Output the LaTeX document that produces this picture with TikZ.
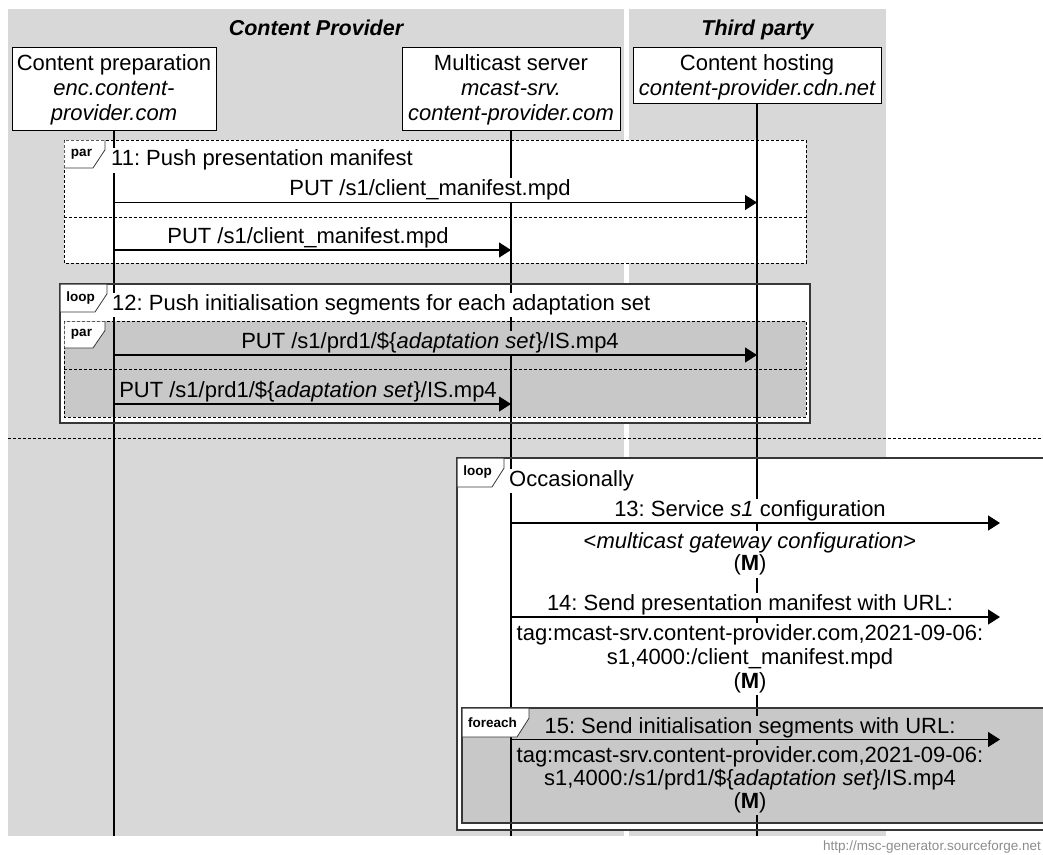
\documentclass[tikz,border=0pt]{standalone}
\usepackage{fontspec}
\setmainfont{Liberation Sans}
\usetikzlibrary{arrows.meta}
\frenchspacing

\definecolor{colbg}{RGB}{216,216,216}
\definecolor{innerbg}{RGB}{200,200,200}
\definecolor{frameline}{RGB}{55,55,55}
\definecolor{credit}{RGB}{140,140,140}

\tikzset{
  maintext/.style={font=\fontsize{22}{24}\selectfont},
  titletext/.style={font=\fontsize{21.5}{24}\selectfont\bfseries\itshape, anchor=base, inner sep=0pt},
  enttext/.style={maintext, anchor=base, inner sep=0pt},
  entbox/.style={draw=black, line width=1pt, fill=white, inner sep=0pt},
  lbl/.style={maintext, anchor=base, inner sep=1pt, text height=16.5pt, text depth=6pt, fill=white},
  lblgrey/.style={lbl, fill=innerbg},
  tagtext/.style={font=\fontsize{13.5}{15}\selectfont\bfseries, inner sep=0pt},
  tagedge/.style={line width=0.8pt, draw=frameline},
  lifeline/.style={line width=1.2pt},
  msg/.style={line width=1.3pt, -{Triangle[length=12pt,width=15pt]}},
  parframe/.style={line width=1pt, dash pattern=on 3pt off 2pt},
  loopframe/.style={line width=1.8pt, draw=frameline},
}

% corner tag of a frame: name, left, top, right, bottom, text
\newcommand{\boxtag}[6]{%
  \fill[white] ({#2+0.6},{#3+0.6}) -- (#4,{#3+0.6}) -- (#4,{#3+0.35*(#5-#3)}) -- ({#4-12},#5) -- ({#2+0.6},#5) -- cycle;
  \draw[tagedge] (#4,#3) -- (#4,{#3+0.35*(#5-#3)}) -- ({#4-12},#5) -- (#2,#5);
  \node[tagtext] (#1) at ({(#2+#4-6)/2},{(#3+#5)/2}) {#6};
}

\begin{document}
\begin{tikzpicture}[x=1pt,y=-1pt]
\useasboundingbox (0,0) rectangle (1043,854);

% organisation columns
\fill[colbg] (8,9) rectangle (624,835.5);
\fill[colbg] (629,9) rectangle (886,835.5);
\node[titletext] (cptitle) at (316,35) {Content Provider};
\node[titletext] (tptitle) at (757.5,35) {Third party};

% frame backgrounds
\fill[white] (64,140) rectangle (806,263);
\fill[white] (60,284) rectangle (810,423);
\fill[innerbg] (64,321) rectangle (806,417);
\fill[white] (457,458) rectangle (1050,830);
\fill[innerbg] (462,708) rectangle (1050,823);

% entities
\node[entbox, minimum width=204pt, minimum height=83pt] (cp) at (114,88.5) {};
\node[enttext] (cpa) at (114,70.5) {Content preparation};
\node[enttext] (cpb) at (114,95.5) {\itshape enc.content-};
\node[enttext] (cpc) at (114,120.5) {\itshape provider.com};

\node[entbox, minimum width=218pt, minimum height=83pt] (ms) at (511,88.5) {};
\node[enttext] (msa) at (511,70.5) {Multicast server};
\node[enttext] (msb) at (511,95.5) {\itshape mcast-srv.};
\node[enttext] (msc) at (511,120.5) {\itshape content-provider.com};

\node[entbox, minimum width=248pt, minimum height=56pt] (ch) at (757,75) {};
\node[enttext] (cha) at (757,70.5) {Content hosting};
\node[enttext] (chb) at (757,95.5) {\itshape content-provider.cdn.net};

% lifelines
\coordinate (cpend) at (114,836);
\coordinate (msend) at (511,836);
\coordinate (chend) at (757,836);
\draw[lifeline] (cp.south) -- (cpend);
\draw[lifeline] (ms.south) -- (msend);
\draw[lifeline] (ch.south) -- (chend);

% frames and separators
\draw[parframe] (64,140) rectangle (806,263);
\draw[parframe] (64,217) -- (806,217);
\draw[loopframe] (60,284) rectangle (810,423);
\draw[parframe] (64,321) rectangle (806,417);
\draw[parframe] (64,369) -- (806,369);
\coordinate (sepl) at (8,438);
\coordinate (sepr) at (1050,438);
\draw[parframe] (sepl) -- (sepr);
\draw[loopframe] (457,458) rectangle (1050,830);
\draw[loopframe] (462,708) rectangle (1050,823);

\boxtag{tagpar1}{64}{140}{105}{168}{par}
\boxtag{tagloop1}{60}{284}{107}{312}{loop}
\boxtag{tagpar2}{64}{321}{105}{348}{par}
\boxtag{tagloop2}{457}{458}{504}{487}{loop}
\boxtag{tagforeach}{462}{708}{529}{737}{foreach}

% labels
\node[lbl, anchor=base west] (l11) at (110,165.5) {11: Push presentation manifest};
\node[lbl] (l11a) at (430,195) {PUT /s1/client\_manifest.mpd};
\node[lbl] (l11b) at (308,243) {PUT /s1/client\_manifest.mpd};
\node[lbl, anchor=base west] (l12) at (111,310) {12: Push initialisation segments for each adaptation set};
\node[lblgrey] (l12a) at (430,348) {PUT /s1/prd1/\$\{\textit{adaptation set}\}/IS.mp4};
\node[lblgrey] (l12b) at (308,397) {PUT /s1/prd1/\$\{\textit{adaptation set}\}/IS.mp4};
\node[lbl, anchor=base west] (locc) at (508,486) {Occasionally};
\node[lbl] (l13) at (750,516.5) {13: Service \textit{s1} configuration};
\node[lbl] (l13x) at (750,548) {<\textit{multicast gateway configuration}>};
\node[lbl] (l13m) at (750,570.5) {(\textbf{M})};
\node[lbl] (l14) at (750,610.5) {14: Send presentation manifest with URL:};
\node[lbl] (l14x) at (750,640) {tag:mcast-srv.content-provider.com,2021-09-06:};
\node[lbl] (l14y) at (750,664) {s1,4000:/client\_manifest.mpd};
\node[lbl] (l14m) at (750,688) {(\textbf{M})};
\node[lblgrey] (l15) at (750,733) {15: Send initialisation segments with URL:};
\node[lblgrey] (l15x) at (750,762) {tag:mcast-srv.content-provider.com,2021-09-06:};
\node[lblgrey] (l15y) at (750,785) {s1,4000:/s1/prd1/\$\{\textit{adaptation set}\}/IS.mp4};
\node[lblgrey] (l15m) at (750,808) {(\textbf{M})};

% messages
\coordinate (a11s) at (114,202.5);  \coordinate (a11e) at (757,202.5);
\coordinate (b11s) at (114,250);    \coordinate (b11e) at (511,250);
\coordinate (a12s) at (114,355);    \coordinate (a12e) at (757,355);
\coordinate (b12s) at (114,404);    \coordinate (b12e) at (511,404);
\coordinate (m13s) at (511,523);    \coordinate (m13e) at (1000,523);
\coordinate (m14s) at (511,617);    \coordinate (m14e) at (1000,617);
\coordinate (m15s) at (511,739.5);  \coordinate (m15e) at (1000,739.5);
\draw[msg] (a11s) -- (a11e);
\draw[msg] (b11s) -- (b11e);
\draw[msg] (a12s) -- (a12e);
\draw[msg] (b12s) -- (b12e);
\draw[msg] (m13s) -- (m13e);
\draw[msg] (m14s) -- (m14e);
\draw[msg] (m15s) -- (m15e);

\node[font=\fontsize{13.5}{15}\selectfont, text=credit, anchor=base east, inner sep=0pt] (credit) at (1041,850) {http://msc-generator.sourceforge.net};
\end{tikzpicture}
\end{document}
